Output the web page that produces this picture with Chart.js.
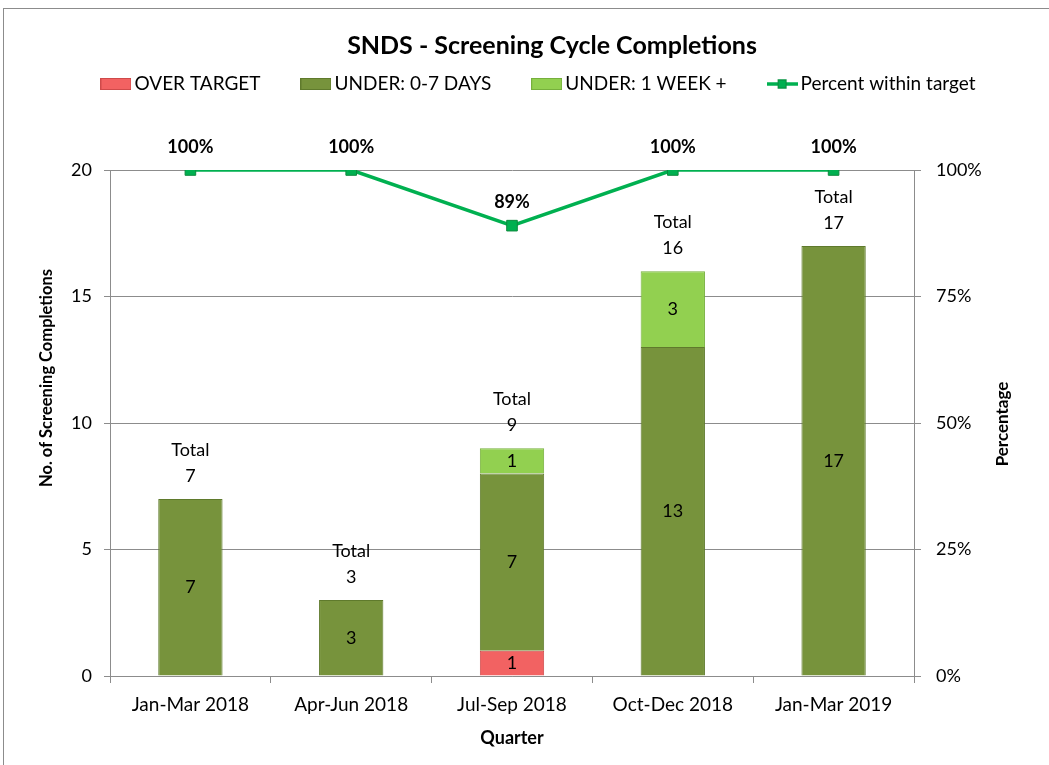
<!DOCTYPE html>
<html>
<head>
<title>SNDS - Screening Cycle Completions</title>
<script src="https://cdn.jsdelivr.net/npm/chart.js"></script>
<style>
    body { margin: 0; background: #fff; overflow: hidden; }
    .frame { position: absolute; left: 3px; top: 8px; width: 1100px; height: 800px; border: 1px solid #8c8c8c; }
    .wrap { position: absolute; left: 0; top: 0; width: 1049px; height: 765px; }
</style>
</head>
<body>
<div class="frame"></div>
<div class="wrap"><canvas id="chart" width="1049" height="765"></canvas></div>
<script>
    // data
    var quarters = ['Jan-Mar 2018', 'Apr-Jun 2018', 'Jul-Sep 2018', 'Oct-Dec 2018', 'Jan-Mar 2019'];
    var overTarget = [0, 0, 1, 0, 0];
    var under07 = [7, 3, 7, 13, 17];
    var under1wk = [0, 0, 1, 3, 0];
    var percentWithin = [100, 100, 89, 100, 100];

    var FONT = 'Lato, "Open Sans", sans-serif';
    var GRID = '#8c8c8c';

    // small icons for the legend
    function boxIcon(fill, border) {
        var c = document.createElement('canvas');
        c.width = 31; c.height = 12;
        var g = c.getContext('2d');
        g.fillStyle = fill; g.fillRect(0, 0, 31, 12);
        g.strokeStyle = border; g.lineWidth = 1; g.strokeRect(0.5, 0.5, 30, 11);
        return c;
    }
    function lineIcon() {
        var c = document.createElement('canvas');
        c.width = 31; c.height = 12;
        var g = c.getContext('2d');
        g.strokeStyle = '#00B050'; g.lineWidth = 3.5;
        g.beginPath(); g.moveTo(0, 6); g.lineTo(31, 6); g.stroke();
        g.fillStyle = '#00B050'; g.fillRect(11, 1.5, 9, 9);
        g.strokeStyle = '#0d8a3e'; g.lineWidth = 1; g.strokeRect(11.5, 2, 8, 8);
        return c;
    }

    var extras = {
        id: 'extras',
        afterDatasetsDraw: function (chart) {
            var ctx = chart.ctx;
            ctx.save();
            ctx.fillStyle = '#000';
            ctx.textAlign = 'center';
            ctx.textBaseline = 'middle';

            // values inside the bar segments
            ctx.font = '18px ' + FONT;
            for (var d = 0; d < 3; d++) {
                var meta = chart.getDatasetMeta(d);
                meta.data.forEach(function (bar, i) {
                    var v = chart.data.datasets[d].data[i];
                    if (v > 0) ctx.fillText(String(v), bar.x, (bar.y + bar.base) / 2);
                });
            }

            // totals above the stacks
            quarters.forEach(function (q, i) {
                var total = overTarget[i] + under07[i] + under1wk[i];
                var top = chart.scales.y.getPixelForValue(total);
                var x = chart.scales.x.getPixelForValue(i);
                ctx.fillText('Total', x, top - 49);
                ctx.fillText(String(total), x, top - 23);
            });

            // percent labels above the line
            ctx.font = 'bold 18px ' + FONT;
            chart.getDatasetMeta(3).data.forEach(function (pt, i) {
                ctx.fillText(percentWithin[i] + '%', pt.x, pt.y - 23);
            });
            ctx.restore();
        },
        afterDraw: function (chart) {
            var ctx = chart.ctx;
            ctx.save();
            ctx.fillStyle = '#000';
            ctx.textBaseline = 'middle';

            // title
            ctx.textAlign = 'center';
            ctx.font = 'bold 25px ' + FONT;
            ctx.fillText('SNDS - Screening Cycle Completions', 552, 46);

            // legend
            ctx.font = '19px ' + FONT;
            ctx.textAlign = 'left';
            var items = chart.data.datasets.map(function (ds) {
                return { text: ds.label, icon: ds.legendIcon, w: 34 + ctx.measureText(ds.label).width };
            });
            var gap = 40;
            var total = items.reduce(function (s, it) { return s + it.w; }, 0) + gap * (items.length - 1);
            var x = 538 - total / 2;
            items.forEach(function (it) {
                ctx.drawImage(it.icon, x, 78);
                ctx.fillText(it.text, x + 34, 84);
                x += it.w + gap;
            });

            // rotated axis titles
            ctx.textAlign = 'center';
            ctx.font = 'bold 16.5px ' + FONT;
            ctx.translate(47, 378);
            ctx.rotate(-Math.PI / 2);
            ctx.fillText('No. of Screening Completions', 0, 0);
            ctx.setTransform(1, 0, 0, 1, 0, 0);
            ctx.font = 'bold 17px ' + FONT;
            ctx.translate(1003, 424);
            ctx.rotate(-Math.PI / 2);
            ctx.fillText('Percentage', 0, 0);
            ctx.restore();
        }
    };

    var ctx = document.getElementById('chart').getContext('2d');
    var chart = new Chart(ctx, {
        type: 'bar',
        data: {
            labels: quarters,
            datasets: [{
                label: 'OVER TARGET',
                data: overTarget,
                backgroundColor: '#F26262',
                borderColor: '#cf4a4a',
                borderWidth: 1,
                order: 1,
                legendIcon: boxIcon('#F26262', '#cf4a4a')
            }, {
                label: 'UNDER: 0-7 DAYS',
                data: under07,
                backgroundColor: '#77933C',
                borderColor: '#5f7a2c',
                borderWidth: 1,
                order: 1,
                legendIcon: boxIcon('#77933C', '#5f7a2c')
            }, {
                label: 'UNDER: 1 WEEK +',
                data: under1wk,
                backgroundColor: '#92D050',
                borderColor: '#76b03c',
                borderWidth: 1,
                order: 1,
                legendIcon: boxIcon('#92D050', '#76b03c')
            }, {
                type: 'line',
                label: 'Percent within target',
                data: percentWithin,
                yAxisID: 'y1',
                borderColor: '#00B050',
                backgroundColor: '#00B050',
                borderWidth: 3.5,
                pointStyle: 'rect',
                pointRadius: 7.5,
                pointBorderColor: '#0d8a3e',
                pointBorderWidth: 1,
                tension: 0,
                order: 0,
                legendIcon: lineIcon()
            }]
        },
        options: {
            responsive: false,
            animation: false,
            layout: { padding: { top: 170, left: 0, right: 0, bottom: 0 } },
            datasets: { bar: { barPercentage: 0.4, categoryPercentage: 1 } },
            plugins: {
                legend: { display: false },
                title: { display: false },
                tooltip: { enabled: false }
            },
            scales: {
                x: {
                    stacked: true,
                    afterFit: function (s) { s.height = 89; },
                    grid: { drawOnChartArea: false, tickLength: 7, color: GRID },
                    border: { color: GRID },
                    ticks: { color: '#000', font: { family: FONT, size: 19 }, padding: 10, maxRotation: 0 },
                    title: {
                        display: true, text: 'Quarter', color: '#000',
                        font: { family: FONT, size: 18, weight: 'bold' },
                        padding: { top: 0, bottom: 16 }
                    }
                },
                y: {
                    stacked: true,
                    min: 0, max: 20,
                    afterFit: function (s) { s.width = 110; },
                    grid: { color: GRID, tickLength: 6 },
                    border: { color: GRID },
                    ticks: { stepSize: 5, color: '#000', font: { family: FONT, size: 18 }, padding: 12 }
                },
                y1: {
                    position: 'right',
                    min: 0, max: 100,
                    afterFit: function (s) { s.width = 135; },
                    grid: { drawOnChartArea: false, color: GRID, tickLength: 7 },
                    border: { color: GRID },
                    ticks: {
                        stepSize: 25, color: '#000', font: { family: FONT, size: 18 }, padding: 15,
                        callback: function (v) { return v + '%'; }
                    }
                }
            }
        },
        plugins: [extras]
    });
</script>
</body>
</html>
